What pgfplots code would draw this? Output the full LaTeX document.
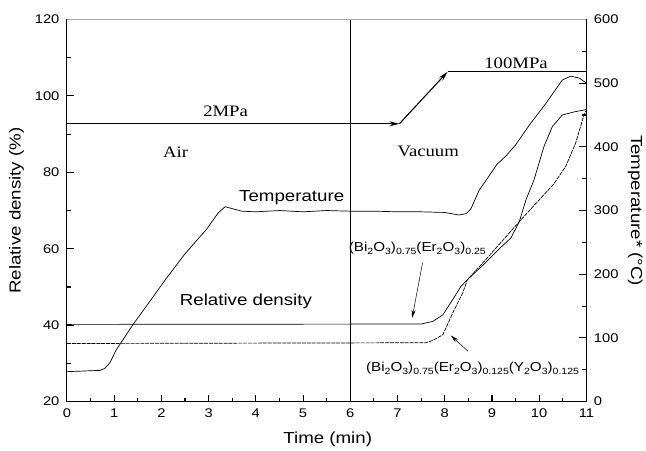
\documentclass[border=0pt]{standalone}
\usepackage{fontspec}
\setmainfont[FakeStretch=1.17]{Liberation Sans}
\newfontfamily\serif[FakeStretch=1.17]{Liberation Serif}
\usepackage{pgfplots}
\pgfplotsset{compat=1.18}
\usetikzlibrary{arrows.meta}
\newcommand{\sub}[1]{\raisebox{-0.45ex}{\fontsize{9}{10}\selectfont #1}}

\pgfplotstableread{
x T
0 47
0.7 49
0.8 52
0.91 61
1.05 82
1.4 121
1.8 162
2.11 194
2.5 232
2.95 270
3.2 296
3.35 306
3.5 303
3.7 299
4.0 298
4.5 300
5.0 298
5.5 300
6.0 299
6.5 299
7.0 298
7.5 298
8.0 297
8.3 293
8.45 295
8.55 302
8.73 332
8.9 350
9.1 372
9.3 386
9.5 403
9.8 435
10.14 468
10.49 505
10.67 511
10.85 508
11.0 500
}\temptable

\pgfplotstableread{
x y
0 40.2
7.5 40.3
7.75 41.0
7.96 42.7
8.17 46.7
8.34 50.1
8.48 51.9
8.8 55.6
9.2 60.5
9.4 62.8
9.58 67.1
9.72 72.8
9.89 78.0
10.1 86.7
10.28 92.0
10.49 95.0
10.77 95.9
10.95 96.3
11.0 96.5
}\ertable

\pgfplotstableread{
x y
0 35.2
7.6 35.4
7.75 36.0
7.96 37.5
8.17 43.2
8.38 48.4
8.48 51.9
8.8 56.2
9.2 61.8
9.58 67.1
10.0 72.8
10.3 76.8
10.56 81.5
10.77 87.6
10.95 95.0
11.0 96.3
}\ytable

\begin{document}
\begin{tikzpicture}
\path (-67pt,-49pt) rectangle (579pt,402pt);
\begin{axis}[scale only axis, width=520pt, height=382.5pt,
  at={(0,0)}, anchor=south west,
  xmin=0, xmax=11, ymin=20, ymax=120,
  /pgf/number format/assume math mode=true,
  tick label style={font=\fontsize{12.6}{15}\selectfont},
  major tick length=7pt, minor tick length=4pt,
  major tick style={black, line width=1.1pt},
  minor tick style={black, line width=1.1pt},
  axis line style={line width=0.9pt},
  xtick={0,...,11}, minor x tick num=1,
  ytick={20,40,...,120}, minor y tick num=1,
  xtick pos=left, ytick pos=left,
  xticklabel style={yshift=-4pt},
  yticklabel style={xshift=-4pt},
  xlabel={Time (min)},
  ylabel={Relative density (\%)},
  xlabel style={font=\fontsize{16}{19}\selectfont, at={(axis description cs:0.502,-0.099)}, anchor=center},
  ylabel style={font=\fontsize{16}{19}\selectfont, at={(axis description cs:-0.097,0.5)}, anchor=center},
]
\addplot[black, line width=0.7pt] table[x=x, y=y] {\ertable};
\addplot[black, line width=0.7pt, dash pattern=on 4pt off 0.9pt] table[x=x, y=y] {\ytable};
\draw[line width=0.6pt] (axis cs:6,20) -- (axis cs:6,120);
\draw[line width=1.1pt, -{Stealth[length=10pt,width=5pt]}] (axis cs:0,92.7) -- (axis cs:7.04,92.7);
\draw[line width=1.1pt, -{Stealth[length=10pt,width=5pt]}] (axis cs:7.04,92.7) -- (axis cs:8.06,106.3);
\draw[line width=1.1pt] (axis cs:8.06,106.3) -- (axis cs:11,106.3);
\node[font=\serif\fontsize{16}{19}\selectfont] at (axis cs:3.36,96.1) {2MPa};
\node[font=\serif\fontsize{16}{19}\selectfont] at (axis cs:2.30,85.2) {Air};
\node[font=\serif\fontsize{16}{19}\selectfont] at (axis cs:7.65,85.4) {Vacuum};
\node[font=\serif\fontsize{16}{19}\selectfont] at (axis cs:9.51,108.5) {100MPa};
\node[font=\fontsize{16}{19}\selectfont] at (axis cs:4.76,73.3) {Temperature};
\node[font=\fontsize{16}{19}\selectfont] at (axis cs:3.79,46.2) {Relative density};
\node[font=\fontsize{13}{15}\selectfont, anchor=base] at (axis cs:7.42,59.3) {(Bi\sub{2}O\sub{3})\sub{0.75}(Er\sub{2}O\sub{3})\sub{0.25}};
\node[font=\fontsize{13}{15}\selectfont, anchor=base] at (axis cs:8.59,27.9) {(Bi\sub{2}O\sub{3})\sub{0.75}(Er\sub{2}O\sub{3})\sub{0.125}(Y\sub{2}O\sub{3})\sub{0.125}};
\draw[line width=0.5pt, -{Stealth[length=8pt,width=4pt]}] (axis cs:7.53,56.3) -- (axis cs:7.31,41.9);
\draw[line width=0.5pt, -{Stealth[length=8pt,width=4pt]}] (axis cs:8.49,33.2) -- (axis cs:8.13,37.3);
\end{axis}
\begin{axis}[scale only axis, width=520pt, height=382.5pt,
  at={(0,0)}, anchor=south west,
  xmin=0, xmax=11, ymin=0, ymax=600,
  /pgf/number format/assume math mode=true,
  tick label style={font=\fontsize{12.6}{15}\selectfont},
  major tick length=7pt, minor tick length=4pt,
  major tick style={black, line width=1.1pt},
  minor tick style={black, line width=1.1pt},
  axis line style={line width=0.9pt},
  xtick=\empty,
  ytick={0,100,...,600}, minor y tick num=1,
  ytick pos=right,
  yticklabel style={xshift=4pt},
  ylabel={Temperature* (°C)},
  ylabel style={font=\fontsize{16}{19}\selectfont, at={(axis description cs:1.094,0.5)}, anchor=center, rotate=180},
]
\addplot[black, line width=0.7pt] table[x=x, y=T] {\temptable};
\draw[gray!70, line width=1.3pt] (axis cs:0,600) -- (axis cs:11,600);
\end{axis}
\end{tikzpicture}
\end{document}
